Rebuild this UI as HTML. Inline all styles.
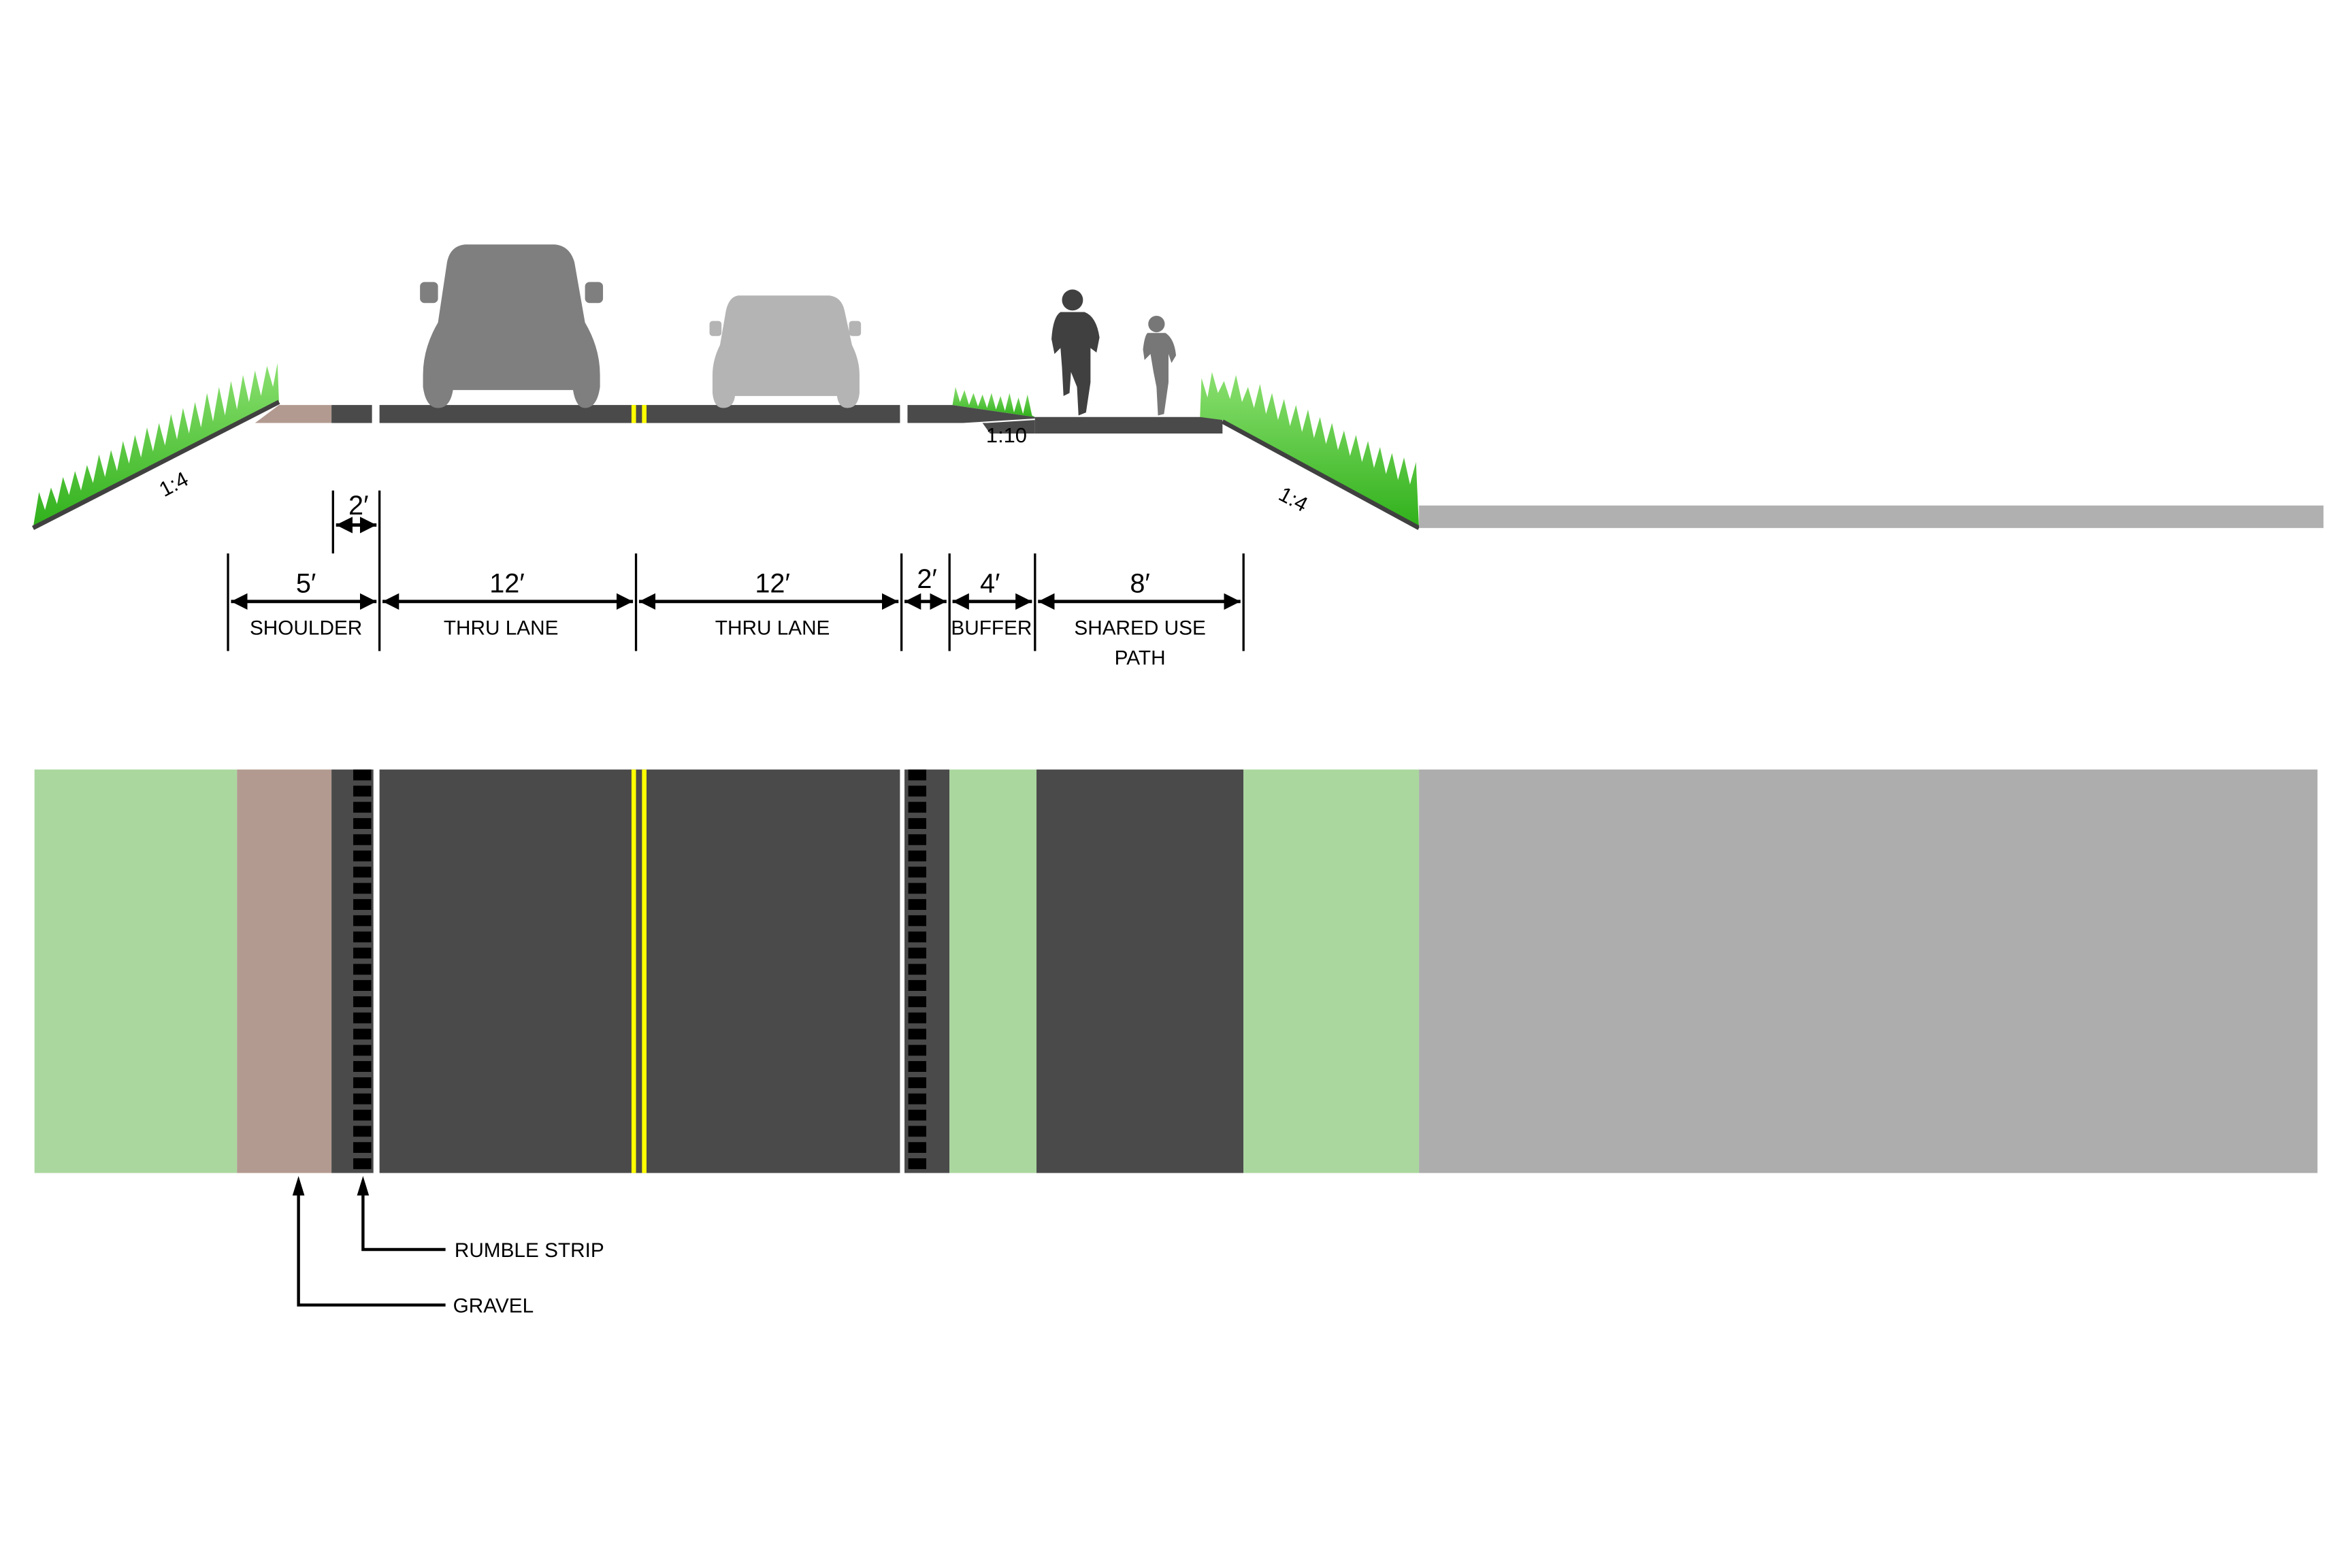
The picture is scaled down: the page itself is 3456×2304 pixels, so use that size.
<!DOCTYPE html>
<html><head><meta charset="utf-8"><style>html,body{margin:0;padding:0;background:#fff}svg{display:block}</style></head>
<body>
<svg width="3456" height="2304" viewBox="0 0 1568 1045.33" xmlns="http://www.w3.org/2000/svg" font-family="'Liberation Sans', sans-serif">
<defs>
<linearGradient id="gr" x1="0" y1="0" x2="0" y2="1"><stop offset="0" stop-color="#8be070"/><stop offset="1" stop-color="#2fb01a"/></linearGradient>
<marker id="ar" viewBox="0 0 10 10" refX="10" refY="5" markerWidth="5" markerHeight="5" orient="auto-start-reverse"><path d="M0,0 L10,5 L0,10 z" fill="#000"/></marker>
</defs>
<rect width="1568" height="1045.33" fill="#fff"/>

<polygon fill="url(#gr)" points="22,352 26,328 30,340 34,325 38,336 42,318 46,330 50,314 54,327 58,310 62,322 66,303 70,318 74,300 78,314 82,294 86,309 90,290 94,305 98,285 102,301 106,282 110,297 114,276 118,293 122,272 126,289 130,268 134,285 138,262 142,281 146,258 150,277 154,254 158,273 162,250 166,268 170,247 174,264 178,244 182,258 185,242 186,268"/>
<line x1="22" y1="352" x2="186" y2="268" stroke="#404040" stroke-width="3"/>
<text x="118" y="327" font-size="14" transform="rotate(-28 118 327)" text-anchor="middle">1:4</text>
<polygon points="186,270 221,270 221,282 170,282" fill="#b39a90"/>
<rect x="221" y="270" width="27" height="12" fill="#4a4a4a"/>
<rect x="253" y="270" width="347" height="12" fill="#4a4a4a"/>
<rect x="421" y="270" width="3" height="12" fill="#ffff00"/>
<rect x="428" y="270" width="3" height="12" fill="#ffff00"/>
<polygon points="605,270 635,270 690,278 690,289 660,289 655,282 605,282" fill="#4a4a4a"/>
<polygon points="642,282 658,282 690,280 690,279" fill="#fff"/>
<polygon fill="url(#gr)" points="635,270 637,258 640,268 643,260 646,270 649,262 652,271 655,263 658,272 661,262 664,273 667,264 670,274 673,262 676,275 679,265 682,276 685,263 688,277 690,278"/>
<rect x="690" y="278" width="125" height="11" fill="#4a4a4a"/>
<polygon fill="url(#gr)" points="800,278 801,252 805,265 808,248 812,262 816,254 820,266 824,250 828,268 832,258 836,272 840,256 844,276 848,262 852,280 856,266 860,284 864,270 868,288 872,273 876,292 880,278 884,296 888,282 892,300 896,287 900,304 904,290 908,308 912,294 916,312 920,298 924,316 928,302 932,320 936,305 940,323 944,308 946,352 815,280"/>
<line x1="815" y1="281" x2="946" y2="352" stroke="#404040" stroke-width="3"/>
<text x="860" y="337" font-size="14" transform="rotate(28 860 337)" text-anchor="middle">1:4</text>
<text x="671" y="295" font-size="14" text-anchor="middle">1:10</text>
<rect x="946" y="337" width="603" height="15" fill="#b0b0b0"/>

<g fill="#7f7f7f">
<path d="M310,163 L370,163 Q380,164 383,175 L390,215 Q400,232 400,250 L400,258 Q398,272 390,272 Q384,272 382,260 L302,260 Q300,272 292,272 Q284,272 282,258 L282,250 Q282,232 292,215 L298,175 Q300,164 310,163 Z"/>
<rect x="280" y="188" width="12" height="14" rx="3"/>
<rect x="390" y="188" width="12" height="14" rx="3"/>
</g>
<g fill="#b4b4b4">
<path d="M492,197 L553,197 Q561,198 563,207 L568,230 Q573,240 573,250 L573,262 Q572,272 565,272 Q559,272 558,264 L490,264 Q489,272 482,272 Q476,272 475,262 L475,250 Q475,240 480,230 L484,207 Q486,198 492,197 Z"/>
<rect x="473" y="214" width="8" height="10" rx="2"/>
<rect x="566" y="214" width="8" height="10" rx="2"/>
</g>
<g fill="#404040">
<circle cx="715" cy="200" r="7"/>
<path d="M707,208 L723,208 Q731,211 733,225 L731,235 L727,232 L727,255 L724,275 L719,277 L718,258 L714,248 L713,262 L709,264 L708,245 L707,232 L703,236 L701,226 Q702,211 707,208 Z"/>
</g>
<g fill="#777">
<circle cx="771" cy="216" r="5.5"/>
<path d="M765,222 L777,222 Q783,226 784,237 L781,242 L779,236 L779,255 L776,276 L772,277 L771,258 L769,248 L767,236 L763,240 L762,233 Q763,224 765,222 Z"/>
</g>

<g stroke="#000" stroke-width="1.5">
<line x1="222" y1="327" x2="222" y2="369"/>
<line x1="253" y1="327" x2="253" y2="434"/>
<line x1="152" y1="369" x2="152" y2="434"/>
<line x1="424" y1="369" x2="424" y2="434"/>
<line x1="601" y1="369" x2="601" y2="434"/>
<line x1="633" y1="369" x2="633" y2="434"/>
<line x1="690" y1="369" x2="690" y2="434"/>
<line x1="829" y1="369" x2="829" y2="434"/>
</g>
<g stroke="#000" stroke-width="2.2" marker-start="url(#ar)" marker-end="url(#ar)">
<line x1="224" y1="350" x2="251" y2="350"/>
<line x1="154" y1="401" x2="251" y2="401"/>
<line x1="255" y1="401" x2="422" y2="401"/>
<line x1="426" y1="401" x2="599" y2="401"/>
<line x1="603" y1="401" x2="631" y2="401"/>
<line x1="635" y1="401" x2="688" y2="401"/>
<line x1="692" y1="401" x2="827" y2="401"/>
</g>
<g font-size="18" text-anchor="middle">
<text x="239" y="343">2′</text>
<text x="204" y="395">5′</text>
<text x="338" y="395">12′</text>
<text x="515" y="395">12′</text>
<text x="618" y="392">2′</text>
<text x="660" y="395">4′</text>
<text x="760" y="395">8′</text>
</g>
<g font-size="13.5" text-anchor="middle">
<text x="204" y="423">SHOULDER</text>
<text x="334" y="423">THRU LANE</text>
<text x="515" y="423">THRU LANE</text>
<text x="661" y="423">BUFFER</text>
<text x="760" y="423">SHARED USE</text>
<text x="760" y="443">PATH</text>
</g>

<rect x="23" y="513" width="135" height="269" fill="#aad79e"/>
<rect x="158" y="513" width="63" height="269" fill="#b39a90"/>
<rect x="221" y="513" width="28" height="269" fill="#4a4a4a"/>
<rect x="249" y="513" width="4" height="269" fill="#fff"/>
<rect x="253" y="513" width="347" height="269" fill="#4a4a4a"/>
<rect x="421" y="513" width="3" height="269" fill="#ffff00"/>
<rect x="428" y="513" width="3" height="269" fill="#ffff00"/>
<rect x="600" y="513" width="3" height="269" fill="#fff"/>
<rect x="603" y="513" width="30" height="269" fill="#4a4a4a"/>
<rect x="633" y="513" width="58" height="269" fill="#aad79e"/>
<rect x="691" y="513" width="138" height="269" fill="#4a4a4a"/>
<rect x="829" y="513" width="117" height="269" fill="#aad79e"/>
<rect x="946" y="513" width="599" height="269" fill="#adadad"/>
<line x1="241.5" y1="513" x2="241.5" y2="782" stroke="#000" stroke-width="12" stroke-dasharray="7.2 3.6"/>
<line x1="611.5" y1="513" x2="611.5" y2="782" stroke="#000" stroke-width="12" stroke-dasharray="7.2 3.6"/>

<g stroke="#000" stroke-width="2" fill="none">
<polyline points="297,870 199,870 199,796"/>
<polyline points="297,833 242,833 242,796"/>
</g>
<polygon points="199,784 195,797 203,797" fill="#000"/>
<polygon points="242,784 238,797 246,797" fill="#000"/>
<g font-size="13.5">
<text x="303" y="838">RUMBLE STRIP</text>
<text x="302" y="875">GRAVEL</text>
</g>
</svg>
</body></html>
